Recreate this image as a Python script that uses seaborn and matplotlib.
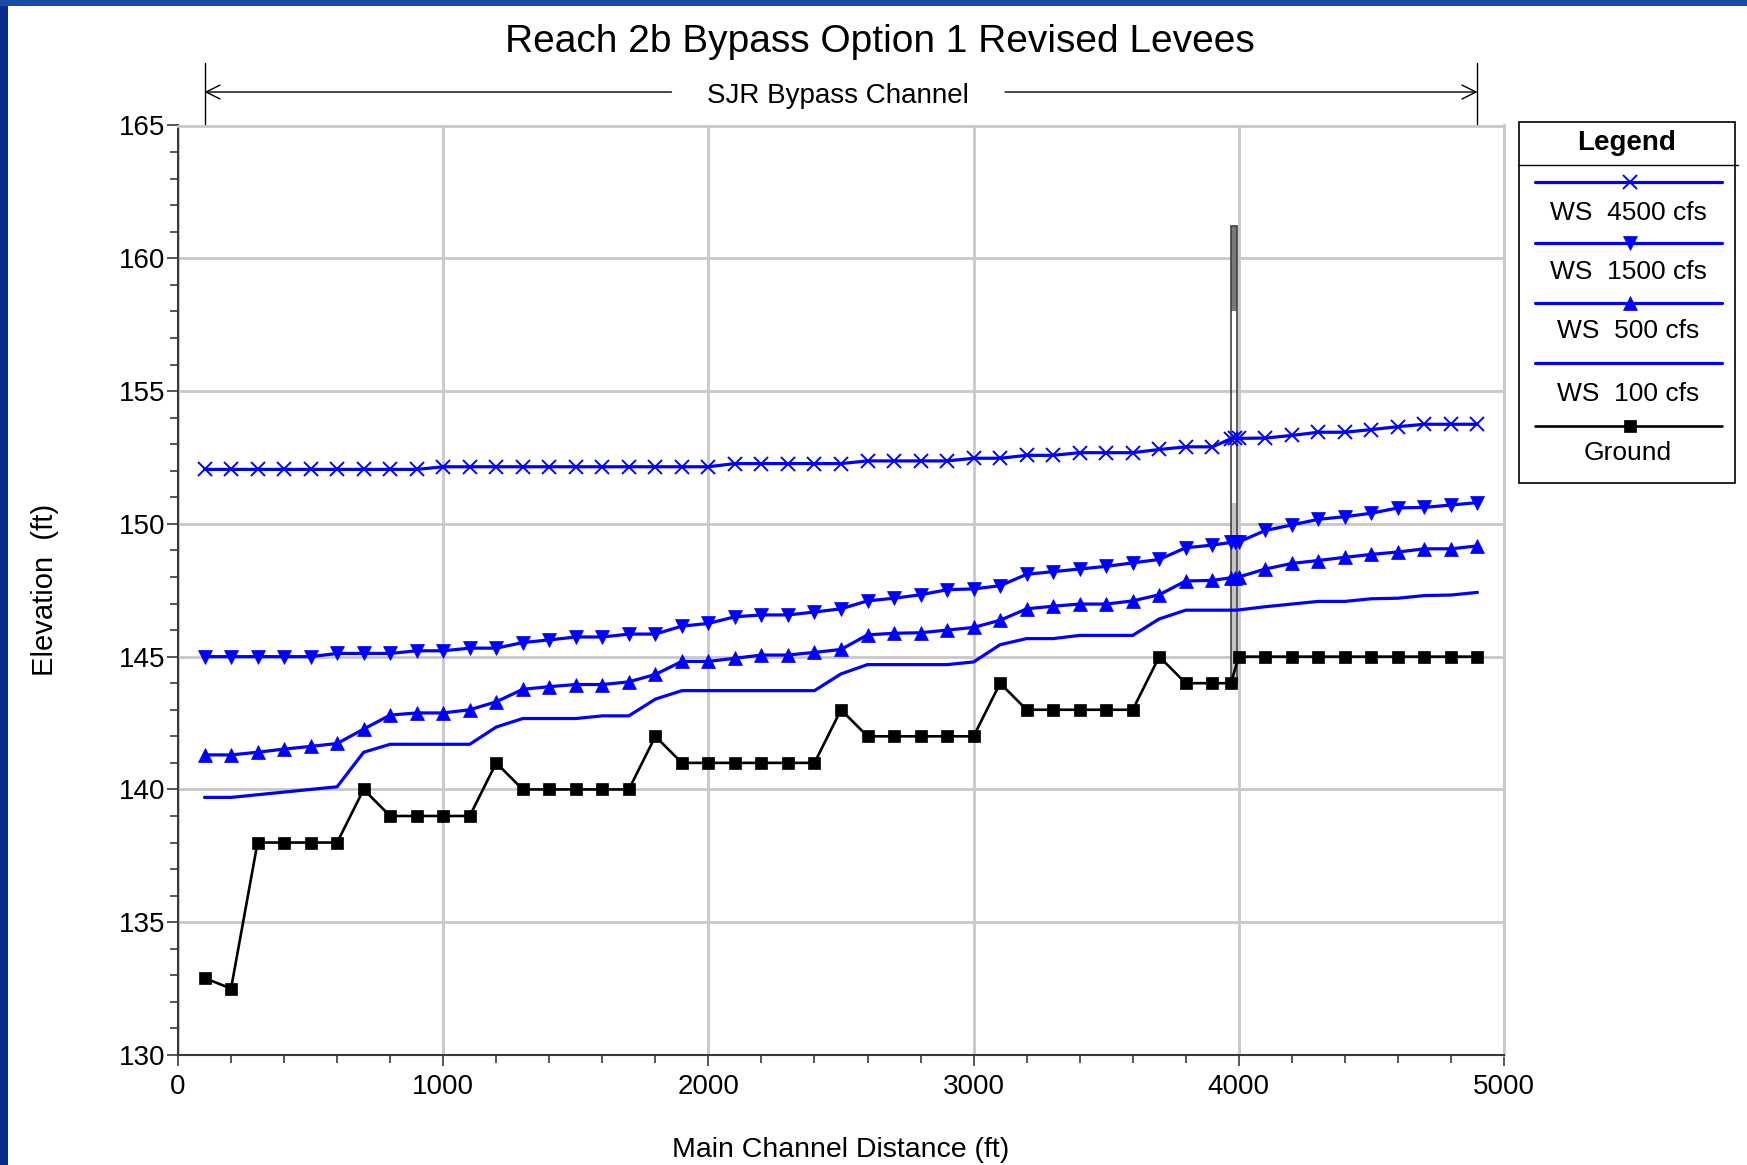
import matplotlib
matplotlib.use("Agg")
import matplotlib.pyplot as plt
from matplotlib.patches import Rectangle
from matplotlib.lines import Line2D
from matplotlib.ticker import MultipleLocator
import seaborn as sns

# ---- water-surface profiles (river stations in ft, elevations in ft) ----
stations = list(range(100, 4000, 100)) + [3970, 3985, 4000] + list(range(4100, 5000, 100))

ws_4500 = ([152.05] * 9 + [152.15] * 11 + [152.27] * 5 + [152.37] * 4 + [152.47] * 2
           + [152.58] * 2 + [152.68] * 3 + [152.8, 152.9, 152.9]
           + [153.2, 153.22, 153.22]
           + [153.23, 153.33, 153.45, 153.45, 153.55, 153.66, 153.75, 153.75, 153.75])

ws_1500 = ([145.0] * 5 + [145.12] * 3 + [145.22] * 2 + [145.32] * 2
           + [145.53, 145.63, 145.74, 145.74, 145.85, 145.85, 146.15, 146.25, 146.5,
              146.57, 146.57, 146.68, 146.8, 147.1, 147.2, 147.33, 147.52, 147.55,
              147.67, 148.1, 148.2, 148.3, 148.4, 148.53, 148.66, 149.1, 149.2]
           + [149.3, 149.3, 149.32]
           + [149.75, 149.96, 150.17, 150.27, 150.4, 150.6, 150.62, 150.71, 150.8])

ws_500 = ([141.3, 141.3, 141.4, 141.52, 141.62, 141.73, 142.27, 142.8, 142.88, 142.88,
           143.0, 143.3, 143.77, 143.87, 143.95, 143.95, 144.05, 144.33, 144.82, 144.82,
           144.94, 145.06, 145.06, 145.16, 145.27, 145.82, 145.88, 145.9, 146.0, 146.1,
           146.37, 146.8, 146.9, 146.98, 146.98, 147.1, 147.33, 147.85, 147.87]
          + [147.97, 147.97, 148.0]
          + [148.3, 148.51, 148.62, 148.74, 148.85, 148.94, 149.06, 149.06, 149.17])

ws_100 = ([139.7, 139.7, 139.8, 139.9, 140.0, 140.1, 141.4, 141.7, 141.7, 141.7,
           141.7, 142.35, 142.67, 142.67, 142.67, 142.77, 142.77, 143.4, 143.72, 143.72,
           143.72, 143.72, 143.72, 143.72, 144.35, 144.7, 144.7, 144.7, 144.7, 144.8,
           145.45, 145.68, 145.68, 145.8, 145.8, 145.8, 146.42, 146.75, 146.75]
          + [146.75, 146.75, 146.76]
          + [146.88, 146.98, 147.08, 147.08, 147.18, 147.2, 147.3, 147.32, 147.42])

# ---- channel invert ----
ground_stations = list(range(100, 4000, 100)) + [3970, 4000] + list(range(4100, 5000, 100))
ground = ([132.9, 132.5, 138, 138, 138, 138, 140, 139, 139, 139, 139, 141,
           140, 140, 140, 140, 140, 142, 141, 141, 141, 141, 141, 141, 143,
           142, 142, 142, 142, 142, 144, 143, 143, 143, 143, 143, 145, 144, 144]
          + [144, 145] + [145] * 9)

# ---- bridge crossing ----
bridge_left, bridge_right = 3970, 3994
bridge_high_chord, bridge_low_chord = 161.2, 158.0
bridge_fill_top, bridge_base = 150.8, 144.0

# ---- reach extent annotation ----
reach_start, reach_end = 100, 4900
reach_label = "SJR Bypass Channel"

legend_labels = ["WS  4500 cfs", "WS  1500 cfs", "WS  500 cfs", "WS  100 cfs", "Ground"]

BLUE = "#0000ff"

sns.set_style("white")
plt.rcParams["font.family"] = ["Liberation Sans", "DejaVu Sans"]
plt.rcParams.update({"text.color": "black", "axes.labelcolor": "black",
                     "xtick.color": "black", "ytick.color": "black"})

W, H = 1747, 1165
fig = plt.figure(figsize=(W / 100, H / 100), dpi=100)
fig.patch.set_facecolor("white")


def fx(px):
    return px / W


def fy(py):
    return 1 - py / H


ax = fig.add_axes([fx(178), fy(1055), fx(1504) - fx(178), fy(125.5) - fy(1055)])

styles = [
    dict(marker="x", ms=10, mew=1.4, mec=BLUE, color=BLUE, lw=2.3),
    dict(marker="v", ms=10.5, mew=0.5, mec=BLUE, mfc=BLUE, color=BLUE, lw=2.3),
    dict(marker="^", ms=10.5, mew=0.5, mec=BLUE, mfc=BLUE, color=BLUE, lw=2.3),
    dict(marker="", color=BLUE, lw=2.3),
    dict(marker="s", ms=9, mew=0.5, mec="black", mfc="black", color="black", lw=1.9),
]

# bridge deck and opening
ax.add_patch(Rectangle((bridge_left, bridge_base), bridge_right - bridge_left,
                       bridge_fill_top - bridge_base, facecolor="#c4c4c4",
                       edgecolor="none", zorder=2))
ax.add_patch(Rectangle((bridge_left, bridge_low_chord), bridge_right - bridge_left,
                       bridge_high_chord - bridge_low_chord, facecolor="#7a7a7a",
                       edgecolor="none", zorder=2))
ax.add_patch(Rectangle((bridge_left, bridge_base), bridge_right - bridge_left,
                       bridge_high_chord - bridge_base, facecolor="none",
                       edgecolor="#404040", lw=1.2, zorder=2))

for vals, kw in zip([ws_4500, ws_1500, ws_500, ws_100], styles[:4]):
    sns.lineplot(x=stations, y=vals, ax=ax, estimator=None, sort=False, zorder=3, **kw)
sns.lineplot(x=ground_stations, y=ground, ax=ax, estimator=None, sort=False, zorder=4,
             **styles[4])

ax.set_xlim(0, 5000)
ax.set_ylim(130, 165)
ax.set_xticks(range(0, 5001, 1000))
ax.set_yticks(range(130, 166, 5))
ax.xaxis.set_minor_locator(MultipleLocator(200))
ax.yaxis.set_minor_locator(MultipleLocator(1))
ax.grid(which="major", color="#c8c8c8", lw=2)
ax.set_axisbelow(True)
for side in ["top", "right"]:
    ax.spines[side].set_color("#c8c8c8")
    ax.spines[side].set_linewidth(2)
for side in ["left", "bottom"]:
    ax.spines[side].set_color("#3a3a3a")
    ax.spines[side].set_linewidth(1.5)
ax.tick_params(which="both", direction="out", color="#3a3a3a", width=1.2,
               labelsize=20, left=True, bottom=True, labelcolor="black")
ax.tick_params(which="major", length=8)
ax.tick_params(which="minor", length=6)
ax.tick_params(axis="y", which="major", pad=1)
ax.tick_params(axis="x", which="major", pad=6)

ax.set_xlabel("Main Channel Distance (ft)", fontsize=20.5)
ax.set_ylabel("Elevation  (ft)", fontsize=21)
ax.xaxis.set_label_coords(0.5, -0.088)
ax.yaxis.set_label_coords(-0.090, 0.5)

# reach extent marker above the plot
trans = ax.get_xaxis_transform()
for xs in (reach_start, reach_end):
    ax.plot([xs, xs], [1.0, 1.067], transform=trans, color="black", lw=1.0, clip_on=False)
arrow_y = 1.036
gap_left, gap_right = 1861, 3119
ax.annotate("", xy=(reach_start, arrow_y), xytext=(gap_left, arrow_y), xycoords=trans,
            textcoords=trans, annotation_clip=False,
            arrowprops=dict(arrowstyle="->", lw=1.0, color="black", shrinkA=0, shrinkB=0,
                            mutation_scale=25))
ax.annotate("", xy=(reach_end, arrow_y), xytext=(gap_right, arrow_y), xycoords=trans,
            textcoords=trans, annotation_clip=False,
            arrowprops=dict(arrowstyle="->", lw=1.0, color="black", shrinkA=0, shrinkB=0,
                            mutation_scale=25))
ax.text((reach_start + reach_end) / 2 - 10, arrow_y - 0.004, reach_label, transform=trans,
        ha="center", va="center", fontsize=20)

fig.text(fx(880), fy(42), "Reach 2b Bypass Option 1 Revised Levees", ha="center",
         va="center", fontsize=28)

# legend panel
fig.add_artist(Rectangle((fx(1519), fy(482.5)), fx(1735) - fx(1519), fy(122.5) - fy(482.5),
                         transform=fig.transFigure, fill=False, edgecolor="black", lw=1.2))
fig.text(fx(1627), fy(143), "Legend", ha="center", va="center", fontsize=20,
         fontweight="bold")
fig.add_artist(Line2D([fx(1519), fx(1738)], [fy(165), fy(165)], transform=fig.transFigure,
                      color="black", lw=1.0))
line_ys = [181.6, 242.9, 303, 363, 425.6]
text_ys = [213, 272, 331, 394, 453]
for lab, ly, ty, kw in zip(legend_labels, line_ys, text_ys, styles):
    kw = dict(kw)
    marker = kw.pop("marker")
    fig.add_artist(Line2D([fx(1535), fx(1722)], [fy(ly), fy(ly)], transform=fig.transFigure,
                          **kw))
    if marker:
        fig.add_artist(Line2D([fx(1630)], [fy(ly)], transform=fig.transFigure,
                              marker=marker, ls="none",
                              **{k: v for k, v in kw.items() if k not in ("lw", "color")},
                              color=kw["color"]))
    fig.text(fx(1628), fy(ty), lab, ha="center", va="center", fontsize=19)

# window frame edges
fig.add_artist(Rectangle((0, 0), fx(8), 1, transform=fig.transFigure,
                         facecolor="#0b2c8e", edgecolor="none"))
fig.add_artist(Rectangle((0, fy(6)), 1, fy(0) - fy(6), transform=fig.transFigure,
                         facecolor="#1a4aa8", edgecolor="none"))

fig.savefig("out.png", dpi=100)
